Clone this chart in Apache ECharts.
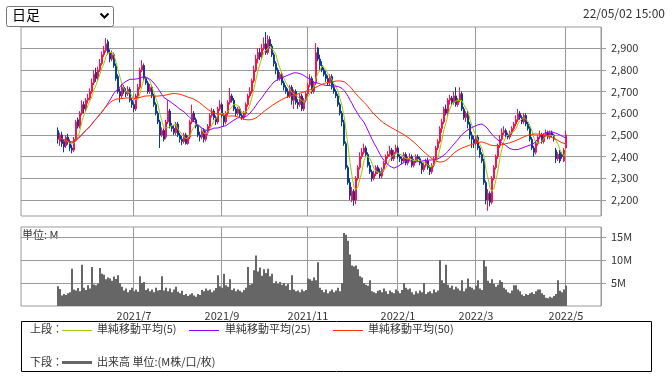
<!DOCTYPE html>
<html><head><meta charset="utf-8">
<script src="https://cdn.jsdelivr.net/npm/echarts@6/dist/echarts.min.js"></script>
<style>html,body{margin:0;padding:0;background:#fff;}#c{width:672px;height:377px;}</style>
</head><body><div id="c"></div>
<script>
const opens = [
2520,2470,2500,2470,2450,2490,2470,2440,2430,2480,
2570,2540,2600,2640,2620,2660,2670,2700,2740,2790,
2760,2800,2830,2870,2890,2930,2880,2850,2870,2820,
2770,2700,2680,2720,2700,2690,2710,2660,2640,2620,
2680,2720,2800,2820,2760,2740,2700,2720,2680,2640,
2600,2560,2500,2520,2490,2560,2610,2540,2530,2510,
2550,2500,2480,2470,2500,2460,2490,2560,2600,2570,
2540,2500,2490,2520,2480,2510,2540,2590,2610,2580,
2560,2620,2640,2590,2560,2600,2650,2680,2660,2620,
2600,2620,2590,2580,2600,2640,2680,2700,2750,2800,
2850,2880,2860,2900,2920,2880,2940,2910,2870,2830,
2800,2760,2780,2740,2720,2700,2680,2720,2660,2700,
2650,2640,2680,2620,2660,2690,2730,2760,2700,2740,
2900,2850,2820,2800,2780,2760,2740,2770,2720,2700,
2680,2640,2600,2560,2460,2350,2280,2200,2240,2200,
2300,2350,2400,2420,2440,2410,2360,2330,2300,2320,
2350,2330,2310,2340,2370,2400,2410,2430,2390,2420,
2440,2400,2390,2380,2410,2370,2390,2400,2360,2380,
2400,2390,2370,2340,2360,2380,2350,2330,2360,2390,
2440,2470,2530,2560,2620,2600,2660,2670,2650,2680,
2640,2660,2690,2620,2580,2600,2550,2500,2480,2460,
2490,2440,2410,2380,2280,2200,2230,2190,2300,2350,
2400,2450,2480,2510,2520,2500,2490,2510,2530,2550,
2570,2600,2580,2560,2590,2550,2530,2480,2440,2420,
2460,2490,2500,2470,2500,2510,2490,2510,2500,2430,
2390,2420,2410,2380,2440];
const closes = [
2480,2500,2460,2445,2490,2470,2440,2430,2480,2560,
2540,2600,2640,2620,2660,2670,2700,2740,2780,2760,
2800,2830,2870,2890,2920,2880,2850,2870,2820,2760,
2700,2680,2720,2700,2690,2710,2660,2640,2620,2680,
2720,2800,2820,2760,2740,2700,2720,2680,2640,2600,
2560,2500,2520,2480,2560,2610,2540,2530,2510,2550,
2500,2480,2470,2500,2460,2490,2560,2600,2570,2540,
2500,2490,2520,2480,2510,2540,2590,2610,2580,2560,
2620,2640,2590,2560,2600,2650,2680,2660,2620,2600,
2620,2590,2580,2600,2640,2680,2700,2750,2800,2850,
2880,2860,2900,2920,2880,2940,2910,2870,2830,2800,
2760,2780,2740,2720,2700,2680,2720,2660,2700,2650,
2640,2680,2620,2660,2690,2730,2760,2700,2740,2880,
2850,2820,2800,2780,2760,2740,2770,2720,2700,2680,
2640,2600,2560,2460,2350,2280,2220,2240,2200,2300,
2350,2400,2420,2440,2410,2360,2330,2300,2320,2350,
2330,2310,2340,2370,2400,2410,2430,2390,2420,2440,
2400,2390,2380,2410,2370,2390,2400,2360,2380,2400,
2390,2370,2340,2360,2380,2350,2330,2360,2390,2440,
2470,2530,2560,2620,2600,2660,2670,2650,2680,2640,
2660,2690,2620,2580,2600,2550,2500,2480,2460,2490,
2440,2410,2380,2280,2200,2230,2190,2300,2350,2400,
2450,2480,2510,2520,2500,2490,2510,2530,2550,2570,
2600,2580,2560,2590,2550,2530,2480,2440,2420,2460,
2490,2500,2470,2500,2510,2490,2510,2500,2480,2390,
2410,2380,2400,2430,2500];
const highs = [
2535,2510,2515,2480,2500,2505,2480,2455,2490,2570,
2580,2610,2660,2655,2670,2690,2715,2760,2800,2810,
2815,2850,2885,2910,2947,2940,2895,2890,2880,2830,
2780,2715,2735,2730,2715,2725,2720,2670,2650,2690,
2735,2810,2845,2830,2770,2750,2735,2730,2690,2650,
2610,2570,2535,2530,2570,2660,2620,2555,2545,2560,
2560,2510,2495,2510,2510,2500,2570,2640,2610,2580,
2550,2515,2530,2530,2520,2550,2600,2625,2620,2590,
2630,2660,2650,2600,2610,2660,2717,2690,2670,2630,
2630,2630,2600,2610,2650,2690,2720,2760,2820,2870,
2900,2900,2920,2950,2975,2960,2955,2920,2880,2840,
2810,2790,2790,2750,2730,2715,2730,2730,2710,2710,
2665,2690,2690,2670,2700,2740,2780,2770,2750,2924,
2905,2870,2840,2815,2795,2775,2780,2780,2735,2710,
2690,2650,2610,2570,2470,2360,2300,2260,2250,2310,
2360,2420,2440,2460,2450,2420,2375,2340,2335,2360,
2360,2345,2350,2380,2410,2425,2450,2440,2430,2455,
2450,2410,2400,2420,2420,2400,2415,2410,2390,2410,
2410,2400,2380,2370,2390,2395,2360,2370,2400,2450,
2480,2540,2575,2630,2640,2670,2685,2680,2700,2720,
2670,2720,2700,2630,2610,2610,2560,2515,2495,2500,
2500,2450,2420,2390,2290,2250,2240,2310,2360,2410,
2460,2500,2530,2540,2530,2510,2520,2540,2560,2590,
2620,2610,2590,2600,2600,2560,2540,2490,2450,2470,
2500,2520,2510,2505,2525,2520,2520,2520,2505,2440,
2420,2430,2420,2440,2520];
const lows = [
2460,2450,2445,2420,2440,2455,2425,2415,2420,2470,
2530,2530,2590,2600,2610,2645,2660,2690,2730,2745,
2750,2790,2820,2860,2880,2870,2835,2840,2810,2750,
2690,2650,2670,2690,2675,2680,2650,2625,2605,2610,
2670,2710,2790,2750,2730,2690,2690,2670,2630,2590,
2550,2440,2490,2470,2480,2550,2530,2515,2500,2500,
2490,2465,2453,2460,2455,2455,2480,2550,2560,2530,
2490,2470,2480,2465,2470,2500,2530,2580,2570,2545,
2550,2610,2580,2540,2550,2590,2640,2650,2610,2585,
2590,2580,2570,2570,2590,2630,2670,2690,2740,2790,
2830,2845,2850,2890,2870,2870,2900,2860,2815,2780,
2750,2750,2730,2705,2690,2670,2670,2640,2620,2640,
2620,2630,2610,2610,2650,2680,2720,2690,2690,2730,
2840,2800,2790,2770,2745,2730,2730,2710,2690,2670,
2630,2590,2540,2450,2340,2270,2200,2190,2173,2180,
2290,2340,2390,2410,2400,2350,2320,2285,2290,2310,
2320,2300,2300,2330,2360,2390,2400,2380,2380,2410,
2390,2375,2365,2370,2360,2360,2380,2350,2350,2370,
2380,2360,2320,2330,2350,2340,2315,2320,2350,2385,
2430,2460,2510,2550,2590,2590,2640,2640,2640,2630,
2630,2650,2610,2570,2560,2530,2480,2440,2440,2450,
2430,2395,2370,2270,2180,2150,2170,2180,2290,2340,
2390,2440,2470,2500,2490,2480,2480,2500,2520,2540,
2560,2570,2550,2550,2540,2520,2470,2430,2400,2410,
2450,2480,2460,2460,2490,2480,2480,2490,2470,2370,
2380,2370,2390,2375,2440];
const volumes = [
4.3,3.7,2.3,2.6,2.4,2.8,3.0,8.1,3.6,3.4,
3.9,3.2,9.0,4.0,3.5,4.5,3.8,8.5,4.7,4.5,
4.9,8.3,7.0,6.8,5.8,6.2,6.0,5.5,6.4,5.9,
6.7,5.0,4.2,3.4,3.8,3.0,3.5,4.0,3.2,3.6,
3.1,6.5,5.0,5.2,3.5,3.8,3.2,3.6,3.0,4.0,
3.4,3.5,6.5,3.4,4.0,3.2,3.8,3.0,3.6,4.2,
3.1,2.8,3.3,2.4,2.6,2.2,2.5,2.8,2.3,2.0,
2.6,2.4,3.5,3.2,3.8,3.4,3.6,3.0,3.4,3.9,
6.7,4.3,4.0,7.0,4.5,4.2,5.8,3.5,3.8,3.2,
3.6,3.3,3.0,3.5,4.0,8.5,4.6,4.8,7.8,11.0,
7.5,8.4,6.6,8.0,7.2,8.1,6.5,7.0,5.0,5.4,
4.8,5.2,4.6,5.0,4.4,4.8,3.5,6.7,3.6,3.2,
3.4,3.0,3.6,3.2,3.5,6.0,5.8,5.5,6.2,5.6,
9.5,4.0,3.5,3.0,3.6,2.8,3.2,3.6,3.0,3.4,
4.0,3.2,5.0,15.9,15.5,14.2,11.2,8.8,8.6,8.8,
8.0,6.5,6.2,5.0,4.6,4.4,5.6,3.2,3.0,2.8,
3.3,3.5,3.0,3.8,3.2,2.6,3.4,3.0,2.8,3.6,
3.2,2.8,3.5,5.0,4.0,3.6,3.8,3.0,2.5,3.2,
2.8,3.4,3.0,5.0,2.6,3.0,3.2,2.8,3.6,3.0,
3.4,10.0,5.6,5.0,9.0,4.6,4.0,4.4,3.6,4.2,
3.8,3.4,5.6,3.2,3.8,6.0,4.2,4.0,3.6,4.4,
5.6,3.8,3.5,10.0,8.6,5.5,5.0,5.8,4.8,4.2,
4.6,5.6,5.2,4.0,3.6,3.0,2.8,3.4,4.5,4.5,
3.6,3.2,2.5,2.2,2.6,2.4,2.8,3.0,2.6,3.2,
3.6,3.6,2.8,2.4,1.8,1.7,2.0,1.8,2.2,2.6,
5.6,3.3,3.0,3.6,4.4];
const monthLabels = ['2021/7','2021/9','2021/11','2022/1','2022/3','2022/5'];
const monthIdx = [38, 82, 125, 170, 209, 254];
const priceTicks = [2200,2300,2400,2500,2600,2700,2800,2900];
const volTicks = [5,10,15];
const maPeriods = [5, 25, 50];
const maColors = ['#99CC00', '#9900FF', '#FF3300'];

const PAD = 18, SLOTS = 290;
const cats = [];
for (let s = 0; s < SLOTS; s++) cats.push('s' + s);
const labelAt = {};
monthIdx.forEach((d, k) => { labelAt[d + PAD] = monthLabels[k]; });
const isMonth = (idx) => labelAt[idx] !== undefined;

const candleData = closes.map((c, i) => [i + PAD, opens[i], c, lows[i], highs[i]]);
const volData = volumes.map((v, i) => [i + PAD, v]);
function ma(n) {
  const out = [];
  for (let i = 0; i < closes.length; i++) {
    const st = Math.max(0, i - n + 1);
    let s = 0;
    for (let j = st; j <= i; j++) s += closes[j];
    out.push([i + PAD, +(s / (i - st + 1)).toFixed(1)]);
  }
  return out;
}
const FONT = '"Noto Sans CJK JP", "Noto Sans", sans-serif';
const GRID = '#9a9a9a';
const UP = '#FF1048', DOWN = '#0A3A9C';

const chart = echarts.init(document.getElementById('c'), null, {renderer: 'canvas'});
const maSeries = maPeriods.map((n, k) => ({
  type: 'line', xAxisIndex: 0, yAxisIndex: 0, data: ma(n), symbol: 'none',
  lineStyle: {width: 1, color: maColors[k]}, itemStyle: {color: maColors[k]}, silent: true, animation: false, z: 3
}));
chart.setOption({
  animation: false,
  textStyle: {fontFamily: FONT},
  grid: [
    {left: 21, top: 27, width: 580, height: 189, show: true, borderColor: GRID, borderWidth: 1, backgroundColor: '#fff'},
    {left: 21, top: 227, width: 580, height: 79, show: true, borderColor: GRID, borderWidth: 1, backgroundColor: '#fff'}
  ],
  xAxis: [
    {type: 'category', gridIndex: 0, data: cats, boundaryGap: true,
     axisLine: {show: false}, axisTick: {show: false}, axisLabel: {show: false},
     splitLine: {show: true, interval: (i) => isMonth(i), lineStyle: {color: GRID, width: 1}}},
    {type: 'category', gridIndex: 1, data: cats, boundaryGap: true,
     axisLine: {show: false}, axisTick: {show: false},
     axisLabel: {show: true, interval: (i) => isMonth(i), formatter: (v, i) => labelAt[i] || '',
       fontSize: 11, color: '#333', margin: 4, fontFamily: FONT},
     splitLine: {show: true, interval: (i) => isMonth(i), lineStyle: {color: GRID, width: 1}}}
  ],
  yAxis: [
    {type: 'value', gridIndex: 0, position: 'right', min: 2126, max: 2998, scale: true,
     axisLine: {show: false},
     axisTick: {show: true, length: 5, inside: false, customValues: priceTicks, lineStyle: {color: GRID}},
     axisLabel: {show: true, customValues: priceTicks, margin: 10, fontSize: 11, color: '#333', fontFamily: FONT,
       formatter: (v) => v.toLocaleString('en-US')},
     splitLine: {show: true, lineStyle: {color: GRID, width: 1}}},
    {type: 'value', gridIndex: 1, position: 'right', min: 0, max: 17.2,
     axisLine: {show: false},
     axisTick: {show: true, length: 5, inside: false, customValues: volTicks, lineStyle: {color: GRID}},
     axisLabel: {show: true, customValues: volTicks, margin: 10, fontSize: 11, color: '#333', fontFamily: FONT,
       formatter: (v) => v + 'M'},
     splitLine: {show: true, lineStyle: {color: GRID, width: 1}}}
  ],
  series: [
    {type: 'candlestick', xAxisIndex: 0, yAxisIndex: 0, data: candleData,
     encode: {x: 0, y: [1, 2, 3, 4]}, barWidth: 1.4, silent: true, z: 2, large: false,
     itemStyle: {color: UP, color0: DOWN, borderColor: UP, borderColor0: DOWN, borderWidth: 1, opacity: 1}},
    ...maSeries,
    {type: 'bar', xAxisIndex: 1, yAxisIndex: 1, data: volData, barWidth: 2, barGap: '0%', silent: true,
     itemStyle: {color: '#666666'}}
  ],
  graphic: [
    {type: 'rect', shape: {x: 6.5, y: 6.5, width: 107, height: 20, r: 2}, style: {fill: '#fff', stroke: '#767676', lineWidth: 1}},
    {type: 'text', left: 12, top: 8, style: {text: '日足', font: '14px ' + FONT, fill: '#000'}},
    {type: 'polyline', shape: {points: [[100.5, 13.5], [104.5, 17.5], [108.5, 13.5]]}, style: {stroke: '#000', lineWidth: 2, fill: null}},
    {type: 'text', right: 7, top: 7, style: {text: '22/05/02 15:00', font: '12px ' + FONT, fill: '#333'}},
    {type: 'text', left: 22, top: 229, style: {text: '単位: M', font: '11px ' + FONT, fill: '#333'}},
    {type: 'rect', shape: {x: 21.5, y: 321.5, width: 630, height: 50}, style: {fill: null, stroke: '#000', lineWidth: 1}},
    {type: 'text', left: 30, top: 323, style: {text: '上段：', font: '11px ' + FONT, fill: '#333'}},
    {type: 'line', shape: {x1: 62, y1: 330.5, x2: 92, y2: 330.5}, style: {stroke: maColors[0], lineWidth: 1}},
    {type: 'text', left: 97, top: 323, style: {text: '単純移動平均(5)', font: '11px ' + FONT, fill: '#333'}},
    {type: 'line', shape: {x1: 189, y1: 330.5, x2: 219, y2: 330.5}, style: {stroke: maColors[1], lineWidth: 1}},
    {type: 'text', left: 225, top: 323, style: {text: '単純移動平均(25)', font: '11px ' + FONT, fill: '#333'}},
    {type: 'line', shape: {x1: 333, y1: 330.5, x2: 363, y2: 330.5}, style: {stroke: maColors[2], lineWidth: 1}},
    {type: 'text', left: 368, top: 323, style: {text: '単純移動平均(50)', font: '11px ' + FONT, fill: '#333'}},
    {type: 'text', left: 30, top: 356, style: {text: '下段：', font: '11px ' + FONT, fill: '#333'}},
    {type: 'line', shape: {x1: 62, y1: 362.5, x2: 92, y2: 362.5}, style: {stroke: '#666', lineWidth: 3}},
    {type: 'text', left: 97, top: 356, style: {text: '出来高 単位:(M株/口/枚)', font: '11px ' + FONT, fill: '#333'}}
  ]
});
</script></body></html>
